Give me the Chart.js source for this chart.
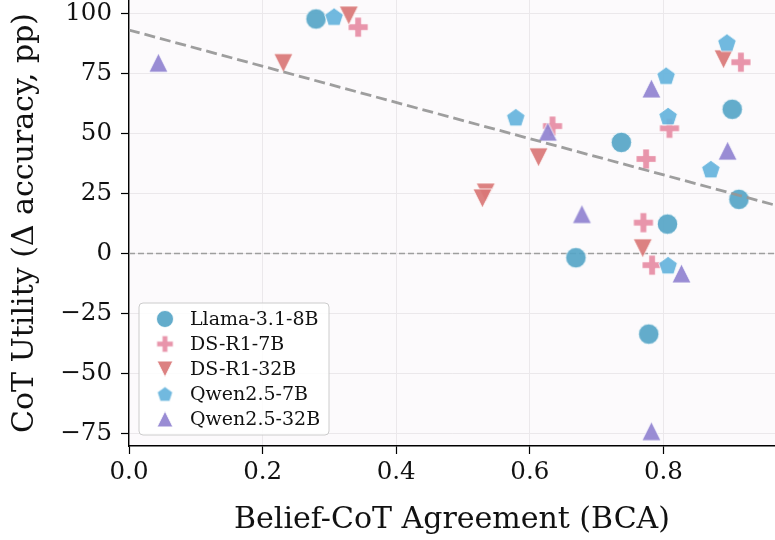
<!DOCTYPE html>
<html><head><meta charset="utf-8">
<script src="https://cdn.jsdelivr.net/npm/chart.js@4.4.1/dist/chart.umd.min.js"></script>
<style>html,body{margin:0;padding:0;background:#fff;}#wrap{width:775px;height:540px;}</style>
</head><body><div id="wrap"><canvas id="c" width="775" height="540"></canvas></div>
<script>
// ---- data ----
const seriesNames = ['Llama-3.1-8B', 'DS-R1-7B', 'DS-R1-32B', 'Qwen2.5-7B', 'Qwen2.5-32B'];
const seriesColors = ['#56a5c7', '#e68ca4', '#d97676', '#65b3dc', '#9082d0'];
const seriesShapes = ['circle', 'plus', 'tridown', 'pentagon', 'triup'];
const seriesSizes = [20.5, 20, 19, 19.5, 19];

const llamaX = [0.280, 0.737, 0.903, 0.913, 0.806, 0.669, 0.778];
const llamaY = [97.6, 46.2, 60.0, 22.5, 12.2, -1.8, -33.6];
const dsr17X = [0.343, 0.634, 0.774, 0.809, 0.916, 0.770, 0.783];
const dsr17Y = [94.2, 53.0, 39.3, 52.1, 79.6, 12.8, -4.9];
const dsr132X = [0.329, 0.231, 0.613, 0.534, 0.529, 0.890, 0.769];
const dsr132Y = [99.0, 79.2, 40.0, 25.3, 22.9, 80.8, 2.1];
const qwen7X = [0.307, 0.579, 0.804, 0.807, 0.895, 0.871, 0.807];
const qwen7Y = [98.6, 56.7, 74.0, 57.2, 87.8, 35.1, -4.9];
const qwen32X = [0.044, 0.627, 0.782, 0.896, 0.678, 0.827, 0.782];
const qwen32Y = [79.4, 50.7, 68.7, 42.8, 16.4, -8.3, -74.0];

const trendX = [0, 0.967];
const trendY = [93.0, 20.1];

const xTicks = [0.0, 0.2, 0.4, 0.6, 0.8];
const yTicks = [-75, -50, -25, 0, 25, 50, 75, 100];

const seriesX = [llamaX, dsr17X, dsr132X, qwen7X, qwen32X];
const seriesY = [llamaY, dsr17Y, dsr132Y, qwen7Y, qwen32Y];

// ---- marker images ----
function hexA(hex, a) {
  const n = parseInt(hex.slice(1), 16);
  return `rgba(${(n >> 16) & 255},${(n >> 8) & 255},${n & 255},${a})`;
}
function shapePath(ctx, shape, c, S) {
  const h = S / 2;
  ctx.beginPath();
  if (shape === 'circle') {
    ctx.arc(c, c, h, 0, Math.PI * 2);
  } else if (shape === 'triup') {
    ctx.moveTo(c, c - h); ctx.lineTo(c - h, c + h); ctx.lineTo(c + h, c + h);
  } else if (shape === 'tridown') {
    ctx.moveTo(c, c + h); ctx.lineTo(c - h, c - h); ctx.lineTo(c + h, c - h);
  } else if (shape === 'pentagon') {
    for (let i = 0; i < 5; i++) {
      const a = -Math.PI / 2 + i * 2 * Math.PI / 5;
      const px = c + h * Math.cos(a), py = c + h * Math.sin(a) + h * 0.1;
      if (i === 0) ctx.moveTo(px, py); else ctx.lineTo(px, py);
    }
  } else if (shape === 'plus') {
    const pts = [[-1, -3], [-1, -1], [-3, -1], [-3, 1], [-1, 1], [-1, 3], [1, 3], [1, 1], [3, 1], [3, -1], [1, -1], [1, -3]];
    pts.forEach((p, i) => {
      const px = c + p[0] / 6 * S, py = c + p[1] / 6 * S;
      if (i === 0) ctx.moveTo(px, py); else ctx.lineTo(px, py);
    });
  }
  ctx.closePath();
}
function makeMarker(shape, color, S) {
  const D = Math.ceil(S + 4);
  const cv = document.createElement('canvas');
  cv.width = D; cv.height = D;
  const ctx = cv.getContext('2d');
  shapePath(ctx, shape, D / 2, S);
  ctx.fillStyle = hexA(color, 0.92);
  ctx.fill();
  ctx.strokeStyle = 'rgba(255,255,255,0.9)';
  ctx.lineWidth = 0.9;
  ctx.stroke();
  return cv;
}
const markers = seriesShapes.map((s, i) => makeMarker(s, seriesColors[i], seriesSizes[i]));
const legendMarkers = seriesShapes.map((s, i) => makeMarker(s, seriesColors[i], seriesSizes[i] * 0.83));

// ---- datasets ----
const datasets = seriesNames.map((name, i) => ({
  label: name,
  data: seriesX[i].map((x, j) => ({ x: x, y: seriesY[i][j] })),
  pointStyle: markers[i],
  pointRadius: 10,
  pointHoverRadius: 10,
  showLine: false,
  order: 10 - i
}));
datasets.push({
  label: 'zero',
  data: [{ x: 0, y: 0 }, { x: 1.2, y: 0 }],
  showLine: true, pointRadius: 0, borderColor: 'rgba(150,150,150,0.9)',
  borderWidth: 1.5, borderDash: [6, 3], order: 20
});
datasets.push({
  label: 'trend',
  data: trendX.map((x, j) => ({ x: x, y: trendY[j] })),
  showLine: true, pointRadius: 0, borderColor: 'rgba(150,150,150,0.92)',
  borderWidth: 2.8, borderDash: [11, 5], order: 0
});

const FONT = "'DejaVu Serif', serif";
const fmtX = v => v.toFixed(1);
const fmtY = v => String(v).replace('-', '\u2212');

const bgPlugin = {
  id: 'bg',
  beforeDraw(chart) {
    const { ctx, chartArea: a } = chart;
    ctx.save();
    ctx.fillStyle = '#fcfafc';
    ctx.fillRect(a.left, a.top, a.right - a.left, a.bottom - a.top);
    ctx.restore();
  }
};
const legendPlugin = {
  id: 'customLegend',
  afterDraw(chart) {
    const { ctx, chartArea: a } = chart;
    const x0 = a.left + 10, w = 190, h = 132;
    const y0 = a.bottom - 11 - h;
    ctx.save();
    ctx.beginPath();
    const r = 4;
    ctx.moveTo(x0 + r, y0); ctx.lineTo(x0 + w - r, y0); ctx.arcTo(x0 + w, y0, x0 + w, y0 + r, r);
    ctx.lineTo(x0 + w, y0 + h - r); ctx.arcTo(x0 + w, y0 + h, x0 + w - r, y0 + h, r);
    ctx.lineTo(x0 + r, y0 + h); ctx.arcTo(x0, y0 + h, x0, y0 + h - r, r);
    ctx.lineTo(x0, y0 + r); ctx.arcTo(x0, y0, x0 + r, y0, r);
    ctx.closePath();
    ctx.fillStyle = 'rgba(255,255,255,0.85)';
    ctx.fill();
    ctx.strokeStyle = '#cccccc';
    ctx.lineWidth = 1;
    ctx.stroke();
    ctx.font = "19px " + FONT;
    ctx.fillStyle = '#111';
    ctx.textBaseline = 'middle';
    ctx.textAlign = 'left';
    seriesNames.forEach((n, i) => {
      const cy = y0 + 16 + i * 25;
      const m = legendMarkers[i];
      ctx.drawImage(m, x0 + 26 - m.width / 2, cy - m.height / 2);
      ctx.fillText(n, x0 + 51, cy + 1);
    });
    ctx.restore();
  }
};

new Chart(document.getElementById('c'), {
  type: 'scatter',
  data: { datasets: datasets },
  options: {
    responsive: false,
    devicePixelRatio: 1,
    animation: false,
    events: [],
    layout: { autoPadding: false, padding: { left: 0, right: 0, top: 0, bottom: 0 } },
    plugins: { legend: { display: false }, tooltip: { enabled: false } },
    scales: {
      x: {
        type: 'linear', min: 0, max: 0.967,
        afterBuildTicks: s => { s.ticks = xTicks.map(v => ({ value: v })); },
        afterFit: s => { s.height = 94; s.paddingLeft = 0; s.paddingRight = 0; },
        ticks: { callback: v => fmtX(v), font: { family: FONT, size: 24.5 }, color: '#111', padding: 4, maxRotation: 0, autoSkip: false },
        grid: { color: '#ebe8eb', lineWidth: 1, tickColor: '#000', tickLength: 8, tickWidth: 1.2 },
        border: { display: true, color: '#000', width: 1.4 },
        title: { display: true, text: 'Belief-CoT Agreement (BCA)', font: { family: FONT, size: 30 }, color: '#111', padding: { top: 2, bottom: 2 } }
      },
      y: {
        type: 'linear', min: -80.2, max: 105.5,
        afterBuildTicks: s => { s.ticks = yTicks.map(v => ({ value: v })); },
        afterFit: s => { s.width = 129; s.paddingTop = 0; s.paddingBottom = 0; },
        ticks: { callback: v => fmtY(v), font: { family: FONT, size: 24.5 }, color: '#111', padding: 9, autoSkip: false },
        grid: { color: '#ebe8eb', lineWidth: 1, tickColor: '#000', tickLength: 8, tickWidth: 1.2 },
        border: { display: true, color: '#000', width: 1.4 },
        title: { display: true, text: 'CoT Utility (\u0394 accuracy, pp)', font: { family: FONT, size: 30 }, color: '#111', padding: { top: 7, bottom: 4 } }
      }
    }
  },
  plugins: [bgPlugin, legendPlugin]
});
</script></body></html>
